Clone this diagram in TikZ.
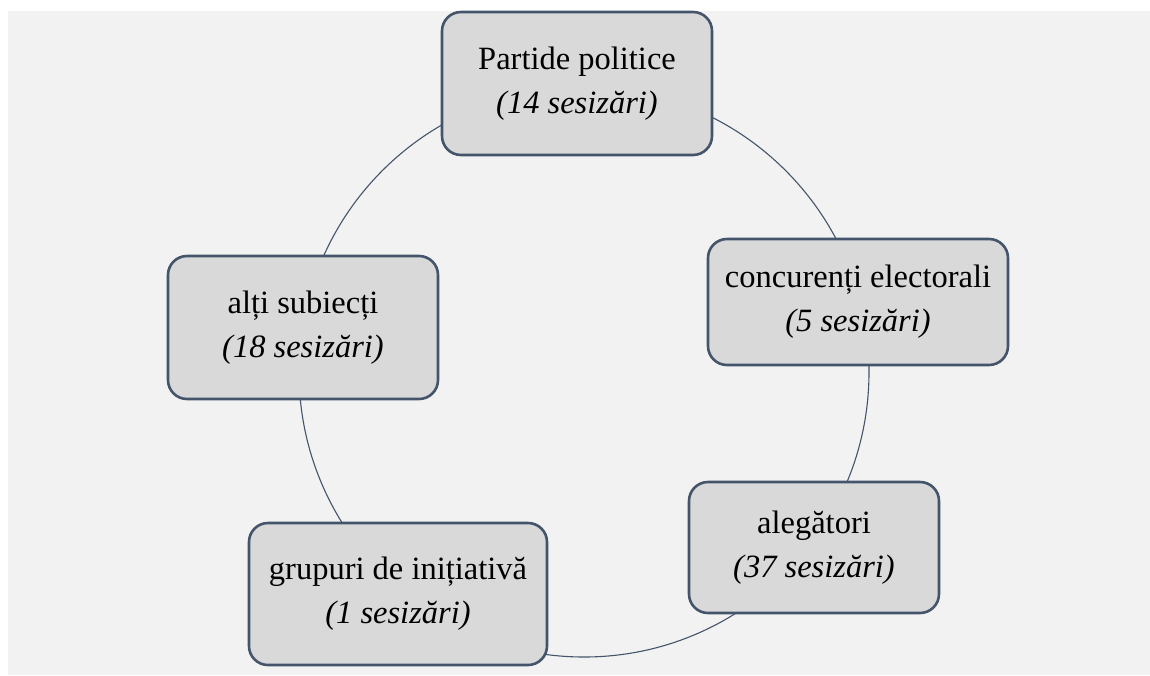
\documentclass[tikz,border=0pt]{standalone}
\usepackage{fontspec}
\setmainfont{Liberation Serif}
\definecolor{bgc}{HTML}{F2F2F2}
\definecolor{boxfill}{HTML}{D9D9D9}
\definecolor{edge}{HTML}{44546A}
\tikzset{
  item/.style={draw=edge, line width=2.6pt, fill=boxfill, rounded corners=19pt,
    align=center, inner sep=0pt, font=\fontsize{32.5}{44}\selectfont, text=black},
  cyc/.style={draw=edge, line width=1.1pt}
}
\begin{document}
\begin{tikzpicture}[x=1pt,y=-1pt]
\useasboundingbox (0,0) rectangle (1150,675);
\fill[bgc] (8,11) rectangle (1150,675);
\coordinate (c) at (584,372);
\draw[cyc] (c) circle[radius=285pt];
\node[item, minimum width=270pt, minimum height=143pt] (pp) at (577,83.5) {Partide politice\\\textit{(14 sesizări)}};
\node[item, minimum width=300pt, minimum height=126pt] (ce) at (858,302) {concurenți electorali\\\textit{(5 sesizări)}};
\node[item, minimum width=250pt, minimum height=131pt] (al) at (814,547.5) {alegători\\\textit{(37 sesizări)}};
\node[item, minimum width=298pt, minimum height=142pt] (gi) at (398,594) {grupuri de inițiativă\\\textit{(1 sesizări)}};
\node[item, minimum width=270pt, minimum height=143pt] (as) at (303,327.5) {alți subiecți\\\textit{(18 sesizări)}};
\end{tikzpicture}
\end{document}
